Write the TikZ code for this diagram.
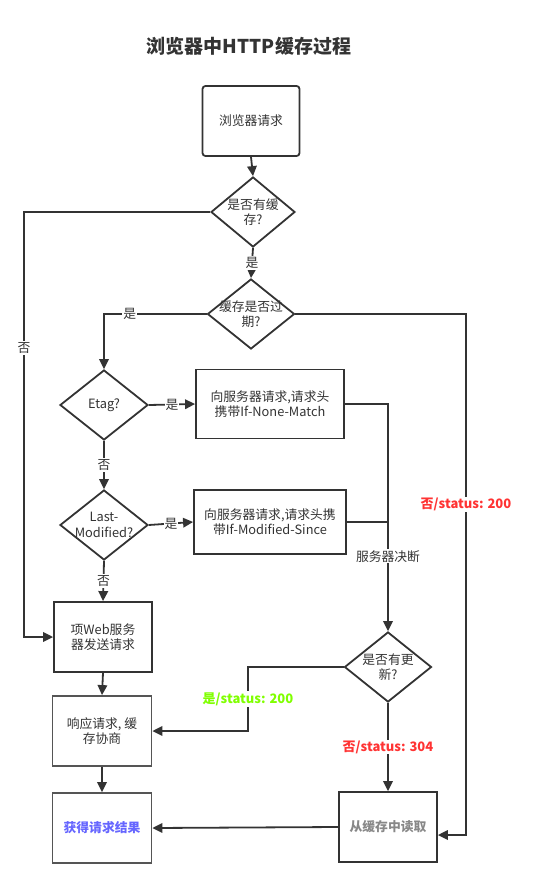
\documentclass[tikz,border=0pt]{standalone}
\usepackage{fontspec}
\setmainfont{Noto Sans CJK SC}
\usetikzlibrary{arrows.meta,shapes.geometric}
\definecolor{lc}{HTML}{333333}
\definecolor{tc}{HTML}{333333}
\definecolor{gr}{HTML}{80FF00}
\definecolor{rd}{HTML}{FF3333}
\definecolor{bl}{HTML}{6666FF}
\definecolor{gy}{HTML}{888888}
\definecolor{bc}{HTML}{555555}
\begin{document}
\begin{tikzpicture}[x=1pt,y=-1pt,
  txt/.style={font=\fontsize{12.8}{15.5}\selectfont, text=tc},
  ln/.style={draw=lc, line width=1.8pt},
  arr/.style={ln, -{Triangle[length=10pt,width=9.5pt]}},
  box/.style={draw=lc, line width=1.8pt, inner sep=0pt, align=center, txt},
  dia/.style={draw=lc, line width=1.8pt, diamond, inner sep=0pt, minimum width=86pt, minimum height=70pt},
  dtxt/.style={txt, align=center, inner sep=0pt},
  lab/.style={fill=white, inner sep=1pt, txt},
  slab/.style={fill=white, inner sep=1pt, font=\fontsize{13}{15}\selectfont\bfseries},
]
\useasboundingbox (0,0) rectangle (533,888);
\node[font=\fontsize{19}{23}\selectfont\bfseries, text=tc] (title) at (249,46) {浏览器中HTTP缓存过程};

\node[box, rounded corners=3pt, minimum width=97pt, minimum height=70pt] (b0) at (251,121) {浏览器请求};
\node[dia, minimum width=84pt] (d1) at (253,212) {};
\node[dtxt] (d1t) at (253,212) {是否有缓\\存?};
\node[dia, minimum width=87pt] (d2) at (251,314) {};
\node[dtxt] (d2t) at (251,314) {缓存是否过\\期?};
\node[dia, minimum width=88pt] (e) at (104,405) {};
\node[dtxt] (et) at (104,405) {Etag?};
\node[dia, minimum width=88pt] (lm) at (104,525) {};
\node[dtxt] (lmt) at (104,525) {Last-\\Modified?};
\node[box, minimum width=148pt, minimum height=69pt] (b1) at (270,404) {向服务器请求,请求头\\携带If-None-Match};
\node[box, minimum width=152pt, minimum height=64pt] (b2) at (270,522) {向服务器请求,请求头携\\带If-Modified-Since};
\node[box, minimum width=98pt, minimum height=70pt] (web) at (103,637) {项Web服务\\器发送请求};
\node[dia, minimum width=87pt] (u) at (388,667) {};
\node[dtxt] (ut) at (388,667) {是否有更\\新?};
\node[box, draw=bc, minimum width=99pt, minimum height=70pt] (resp) at (102,731) {响应请求, 缓\\存协商};
\node[box, draw=bc, minimum width=99pt, minimum height=70pt, text=bl, font=\fontsize{12.8}{15.5}\selectfont\bfseries] (res) at (102,828) {获得请求结果};
\node[box, minimum width=98pt, minimum height=70pt, text=gy, font=\fontsize{12.8}{15.5}\selectfont\bfseries] (cache) at (388,827) {从缓存中读取};

\coordinate (k1) at (24,212);
\coordinate (k2) at (466,314);
\coordinate (k4) at (248,667);
\coordinate (k3) at ([yshift=-8pt]cache.east);

\draw[arr] (b0.south) -- (d1.north);
\draw[arr] (d1.south) -- node[lab]{是} (d2.north);
\draw[arr] (d1.west) -- (k1) -- node[lab, pos=0.32]{否} (k1 |- web.west) -- (web.west);
\draw[arr] (d2.west) -- node[lab, pos=0.75]{是} (d2.west -| e.north) -- (e.north);
\draw[arr] (d2.east) -- (k2) -- node[slab, text=rd, pos=0.365]{否/status: 200} (k2 |- k3) -- (k3);
\draw[arr] (e.east) -- node[lab]{是} (b1.west);
\draw[arr] (e.south) -- node[lab]{否} (lm.north);
\draw[arr] (lm.east) -- node[lab]{是} (b2.west);
\draw[arr] (lm.south) -- node[lab]{否} (web.north);
\draw[arr] (b1.east) -- (b1.east -| u.north) -- node[lab, pos=0.67]{服务器决断} (u.north);
\draw[ln] (b2.east) -- (b2.east -| u.north);
\draw[arr] (u.west) -- (k4) -- node[slab, text=gr]{是/status: 200} (k4 |- resp.east) -- (resp.east);
\draw[arr] (u.south) -- node[slab, text=rd]{否/status: 304} (cache.north);
\draw[arr] (web.south) -- (resp.north);
\draw[arr] (resp.south) -- (res.north);
\draw[arr] (cache.west) -- (res.east);
\end{tikzpicture}
\end{document}
